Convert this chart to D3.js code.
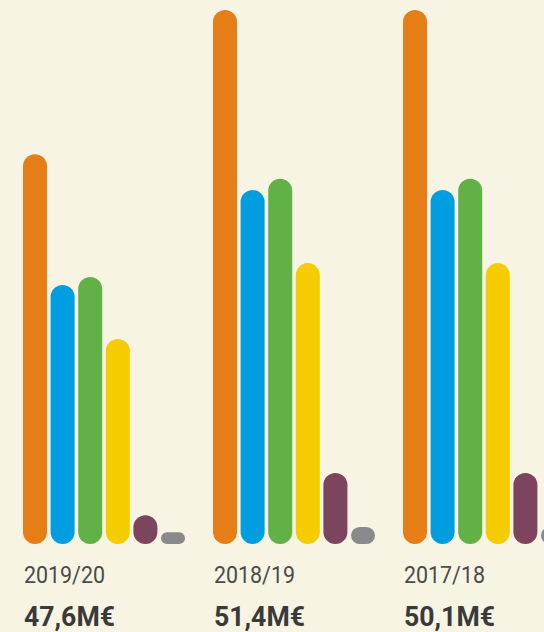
<!DOCTYPE html>
<meta charset="utf-8">
<script src="https://d3js.org/d3.v7.min.js"></script>
<title>Bars by season</title>
<style>
html, body { margin: 0; padding: 0; background: #f7f4e3; }
svg { display: block; }
.year { font-family: Roboto, sans-serif; fill: #4a4a4a; }
.total { font-family: Roboto, sans-serif; font-weight: bold; fill: #3a3a3a; }
</style>
<body>
<svg id="chart" width="544" height="632"></svg>
<script>

// seasons (left to right) and totals shown under each group
var seasons = ["2019/20", "2018/19", "2017/18"];
var totals = ["47,6M€", "51,4M€", "50,1M€"];

// six categories per season, relative heights
var categories = ["c1", "c2", "c3", "c4", "c5", "c6"];
var colors = ["#e67e17", "#009ee0", "#62b146", "#f5cc00", "#7d445e", "#8a8a8a"];

var values2019 = [73.0, 48.5, 50.0, 38.4, 5.4, 2.2];
var values2018 = [100, 66.3, 68.4, 52.6, 13.3, 3.2];
var values2017 = [100, 66.3, 68.4, 52.6, 13.3, 3.2];

var valuesBySeason = [values2019, values2018, values2017];

var svg = d3.select("#chart"),
    width = +svg.attr("width"),
    height = +svg.attr("height");

var x0 = d3.scaleBand()
    .domain(seasons)
    .range([23, 23 + 190 * seasons.length])
    .paddingInner(0)
    .paddingOuter(0);

var x1 = d3.scaleBand()
    .domain(categories)
    .range([0, 162])
    .paddingInner(0.13)
    .paddingOuter(0)
    .align(0);

var y = d3.scaleLinear()
    .domain([0, 100])
    .range([544, 10]);

var groups = svg.selectAll("g.season")
    .data(seasons)
  .enter().append("g")
    .attr("class", "season")
    .attr("transform", function(d) { return "translate(" + x0(d) + ",0)"; });

groups.selectAll("rect")
    .data(function(d, i) {
      return valuesBySeason[i].map(function(v, j) { return {cat: categories[j], value: v, color: colors[j]}; });
    })
  .enter().append("rect")
    .attr("x", function(d) { return x1(d.cat); })
    .attr("y", function(d) { return y(d.value); })
    .attr("width", x1.bandwidth())
    .attr("height", function(d) { return y(0) - y(d.value); })
    .attr("rx", function(d) { return Math.min(x1.bandwidth() / 2, (y(0) - y(d.value)) / 2); })
    .attr("ry", function(d) { return Math.min(x1.bandwidth() / 2, (y(0) - y(d.value)) / 2); })
    .style("fill", function(d) { return d.color; });

groups.append("text")
    .attr("class", "year")
    .attr("x", 1)
    .attr("y", 583)
    .style("font-size", "23px")
    .attr("textLength", 81)
    .attr("lengthAdjust", "spacingAndGlyphs")
    .text(function(d) { return d; });

groups.append("text")
    .attr("class", "total")
    .attr("x", 1)
    .attr("y", 626)
    .style("font-size", "27px")
    .attr("textLength", 91)
    .attr("lengthAdjust", "spacingAndGlyphs")
    .text(function(d, i) { return totals[i]; });

</script>
</body>
